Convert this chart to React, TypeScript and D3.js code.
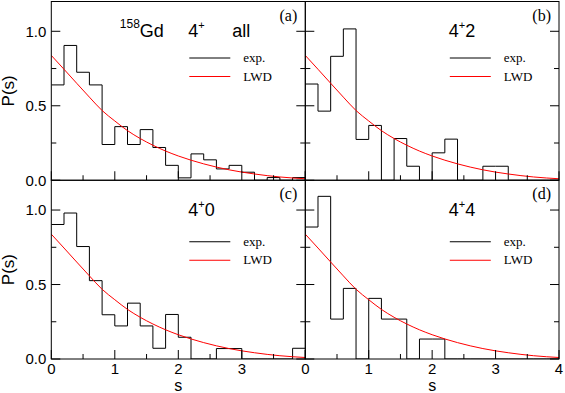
import React from "react";
import * as d3 from "d3";

// histogram bins: width 0.2 on s in [0, 4]
const binWidth = 0.2;
const binStarts = d3.range(20).map((i) => i * binWidth);

const histA = [0.64, 0.905, 0.725, 0.64, 0.24, 0.36, 0.24, 0.34, 0.22, 0.1, 0.016, 0.177, 0.137, 0.076, 0.1, 0.054, 0, 0.018, 0, 0.018];
const histB = [0.646, 0.464, 0.832, 1.016, 0.274, 0.368, 0, 0.28, 0.094, 0, 0.184, 0.276, 0, 0, 0.094, 0.094, 0, 0, 0, 0];
const histC = [0.903, 0.98, 0.755, 0.526, 0.297, 0.222, 0.375, 0.222, 0.072, 0.299, 0.146, 0, 0, 0.07, 0.07, 0, 0, 0, 0, 0.072];
const histD = [0.886, 1.092, 0.268, 0.474, 0, 0.407, 0.268, 0.268, 0, 0.134, 0.134, 0, 0, 0, 0, 0, 0, 0, 0, 0];

// LWD curve
const lwdS = [0, 0.2, 0.4, 0.6, 0.8, 1.0, 1.2, 1.4, 1.6, 1.8, 2.0, 2.4, 2.8, 3.2, 3.6, 4.0];
const lwdP = [0.838, 0.745, 0.651, 0.558, 0.468, 0.398, 0.333, 0.28, 0.235, 0.196, 0.163, 0.11, 0.07, 0.042, 0.022, 0.01];

const xMajor = [0, 1, 2, 3, 4];
const xMinor = [0.5, 1.5, 2.5, 3.5];
const yMajor = [0, 0.5, 1.0];
const yMinor = [0.25, 0.75];

const panelLabels = ["(a)", "(b)", "(c)", "(d)"];
const panelNames = ["all", "2", "0", "4"];
const legendNames = ["exp.", "LWD"];

const W = 565;
const H = 393;
const colX = [51.3, 305.3, 559];
const rowY = [1.5, 180.25, 359];

const sans = "'Liberation Sans', Arial, Helvetica, sans-serif";
const serif = "'Liberation Serif', 'Times New Roman', serif";

type PanelProps = { idx: number; values: number[] };

const Panel = ({ idx, values }: PanelProps) => {
  const col = idx % 2;
  const row = Math.floor(idx / 2);
  const x0 = colX[col];
  const x1 = colX[col + 1];
  const y0 = rowY[row];
  const y1 = rowY[row + 1];

  const x = d3.scaleLinear().domain([0, 4]).range([x0, x1]);
  const y = d3.scaleLinear().domain([0, 1.2]).range([y1, y0]);

  const pts: [number, number][] = binStarts.map((s, i) => [s, values[i]]);
  pts.push([4, values[values.length - 1]]);
  const step = d3
    .line<[number, number]>()
    .x((d) => x(d[0]))
    .y((d) => y(d[1]))
    .curve(d3.curveStepAfter)(pts);

  const curve = d3
    .line<number>()
    .x((_, i) => x(lwdS[i]))
    .y((d) => y(d))
    .curve(d3.curveMonotoneX)(lwdP);

  const clipId = `clip-${idx}`;
  const dx = col === 0 ? 0 : 6.5;
  const legY = row === 0 ? 56.5 : 61.5;

  return (
    <g>
      <defs>
        <clipPath id={clipId}>
          <rect x={x0} y={y0} width={x1 - x0} height={y1 - y0} />
        </clipPath>
      </defs>
      <g clipPath={`url(#${clipId})`}>
        <path d={step ?? ""} fill="none" stroke="#000" strokeWidth={1} />
        <path d={curve ?? ""} fill="none" stroke="#ff0000" strokeWidth={1} />
      </g>
      <rect x={x0} y={y0} width={x1 - x0} height={y1 - y0} fill="none" stroke="#000" strokeWidth={1} />

      {/* ticks: bottom, left, right, all pointing inward */}
      {xMajor.map((t) => (
        <line key={`xM${t}`} x1={x(t)} x2={x(t)} y1={y1} y2={y1 - 9} stroke="#000" />
      ))}
      {xMinor.map((t) => (
        <line key={`xm${t}`} x1={x(t)} x2={x(t)} y1={y1} y2={y1 - 5} stroke="#000" />
      ))}
      {yMajor.map((t) => (
        <g key={`yM${t}`}>
          <line x1={x0} x2={x0 + 9} y1={y(t)} y2={y(t)} stroke="#000" />
          <line x1={x1} x2={x1 - 9} y1={y(t)} y2={y(t)} stroke="#000" />
        </g>
      ))}
      {yMinor.map((t) => (
        <g key={`ym${t}`}>
          <line x1={x0} x2={x0 + 5} y1={y(t)} y2={y(t)} stroke="#000" />
          <line x1={x1} x2={x1 - 5} y1={y(t)} y2={y(t)} stroke="#000" />
        </g>
      ))}

      {/* tick labels */}
      {col === 0 &&
        yMajor.map((t) => (
          <text key={`yl${t}`} x={x0 - 5} y={y(t)} dy="0.36em" textAnchor="end" fontFamily={sans} fontSize={15}>
            {d3.format(".1f")(t)}
          </text>
        ))}
      {row === 1 &&
        xMajor
          .filter((t) => col === 1 || t < 4)
          .map((t) => (
            <text key={`xl${t}`} x={x(t)} y={373.5} textAnchor="middle" fontFamily={sans} fontSize={15}>
              {t}
            </text>
          ))}
      {row === 1 && (
        <text x={(x0 + x1) / 2} y={391} textAnchor="middle" fontFamily={sans} fontSize={16}>
          s
        </text>
      )}
      {col === 0 && (
        <text
          transform={`translate(14,${(y0 + y1) / 2}) rotate(-90)`}
          textAnchor="middle"
          fontFamily={sans}
          fontSize={17}
        >
          P(s)
        </text>
      )}

      {/* panel label */}
      <text x={x1 - 8} y={y0 + 19} textAnchor="end" fontFamily={serif} fontSize={16}>
        {panelLabels[idx]}
      </text>

      {/* title */}
      {idx === 0 ? (
        <g fontFamily={sans}>
          <text x={x0 + 68.5} y={y0 + 35.5} fontSize={18}>
            <tspan fontSize={12} dy={-9}>158</tspan>
            <tspan dy={9}>Gd</tspan>
          </text>
          <text x={x0 + dx + 137} y={y0 + 35.5} fontSize={18}>
            4<tspan fontSize={11} dy={-8}>+</tspan>
          </text>
          <text x={x0 + 181} y={y0 + 35.5} fontSize={18}>
            {panelNames[idx]}
          </text>
        </g>
      ) : (
        <text x={x0 + dx + 137} y={y0 + 35.5} fontFamily={sans} fontSize={18}>
          4<tspan fontSize={11} dy={-8}>+</tspan>
          <tspan dy={8}>{panelNames[idx]}</tspan>
        </text>
      )}

      {/* legend */}
      {legendNames.map((name, i) => (
        <g key={name}>
          <line
            x1={x0 + dx + 138}
            x2={x0 + dx + 179}
            y1={y0 + legY + i * 18.5}
            y2={y0 + legY + i * 18.5}
            stroke={i === 0 ? "#000" : "#ff0000"}
            strokeWidth={1}
          />
          <text x={x0 + dx + 192} y={y0 + legY + i * 18.5 + 4} fontFamily={serif} fontSize={13}>
            {name}
          </text>
        </g>
      ))}
    </g>
  );
};

export default function App() {
  const hists = [histA, histB, histC, histD];
  return (
    <svg
      width={W}
      height={H}
      viewBox={`0 0 ${W} ${H}`}
      style={{ position: "absolute", left: 0, top: 0, background: "#fff" }}
    >
      {hists.map((h, i) => (
        <Panel key={i} idx={i} values={h} />
      ))}
    </svg>
  );
}
